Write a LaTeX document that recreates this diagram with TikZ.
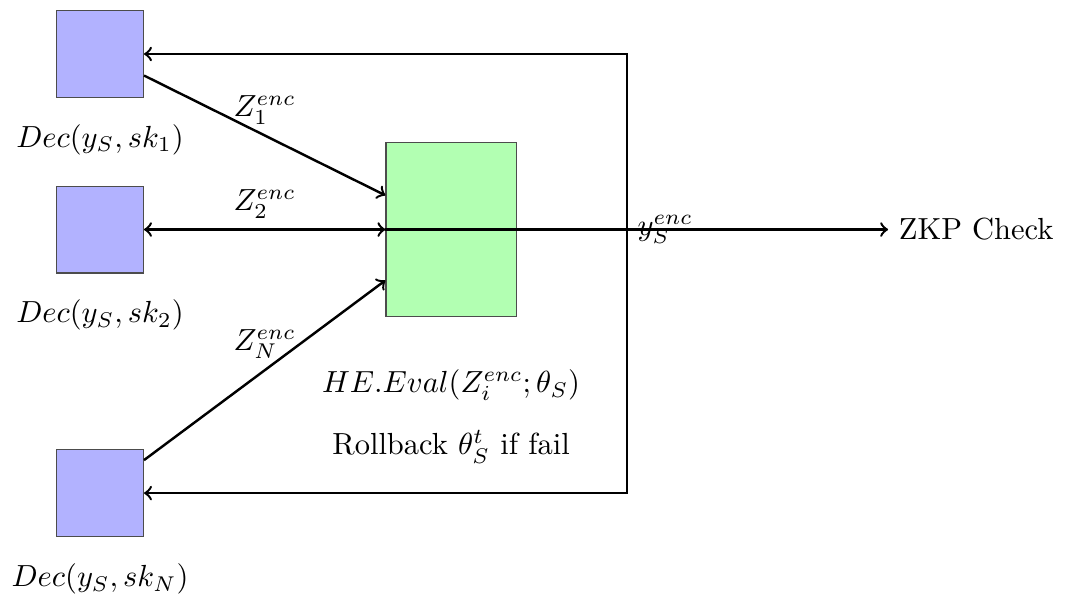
\documentclass[tikz,border=0pt]{standalone}
\usetikzlibrary{arrows}
\begin{document}
\begin{tikzpicture}
\useasboundingbox (0,0) rectangle (12.36,-6.9);
\tikzset{
  client/.style={draw=black!70, fill=blue!30, minimum size=1cm, inner sep=0pt},
  server/.style={draw=black!70, fill=green!30, minimum width=1.5cm, minimum height=2cm, inner sep=0pt},
  conn/.style={thick, ->},
}
\node[client] (s1) at (1.152,-0.622) {};
\node[client] (s2) at (1.152,-2.644) {};
\node[client] (s3) at (1.152,-5.68) {};
\node (d1) at (1.152,-1.61) {$Dec(y_S, sk_1)$};
\node (d2) at (1.152,-3.63) {$Dec(y_S, sk_2)$};
\node (d3) at (1.152,-6.67) {$Dec(y_S, sk_N)$};
\node[server] (g) at (5.196,-2.644) {};
\node (he) at (5.196,-4.44) {$HE.Eval(Z_i^{enc};\theta_S)$};
\node (rb) at (5.196,-5.15) {Rollback $\theta_S^t$ if fail};
\node[anchor=west] (zkp) at (10.23,-2.644) {ZKP Check};
\coordinate (v) at (7.22,-2.644);

\draw[conn] (s1.east |- 0,-0.87) -- node[midway, above] {$Z_1^{enc}$} (g.west |- 0,-2.25);
\draw[thick, <->] (s2) -- node[midway, above] {$Z_2^{enc}$} (g);
\draw[conn] (s3.east |- 0,-5.30) -- node[midway, above] {$Z_N^{enc}$} (g.west |- 0,-3.23);
\draw[conn] (g.west) -- (zkp);
\node[anchor=west] (ylab) at (v) {$y_S^{enc}$};
\draw[conn] (v) |- (s1);
\draw[conn] (v) |- (s3);
\end{tikzpicture}
\end{document}
